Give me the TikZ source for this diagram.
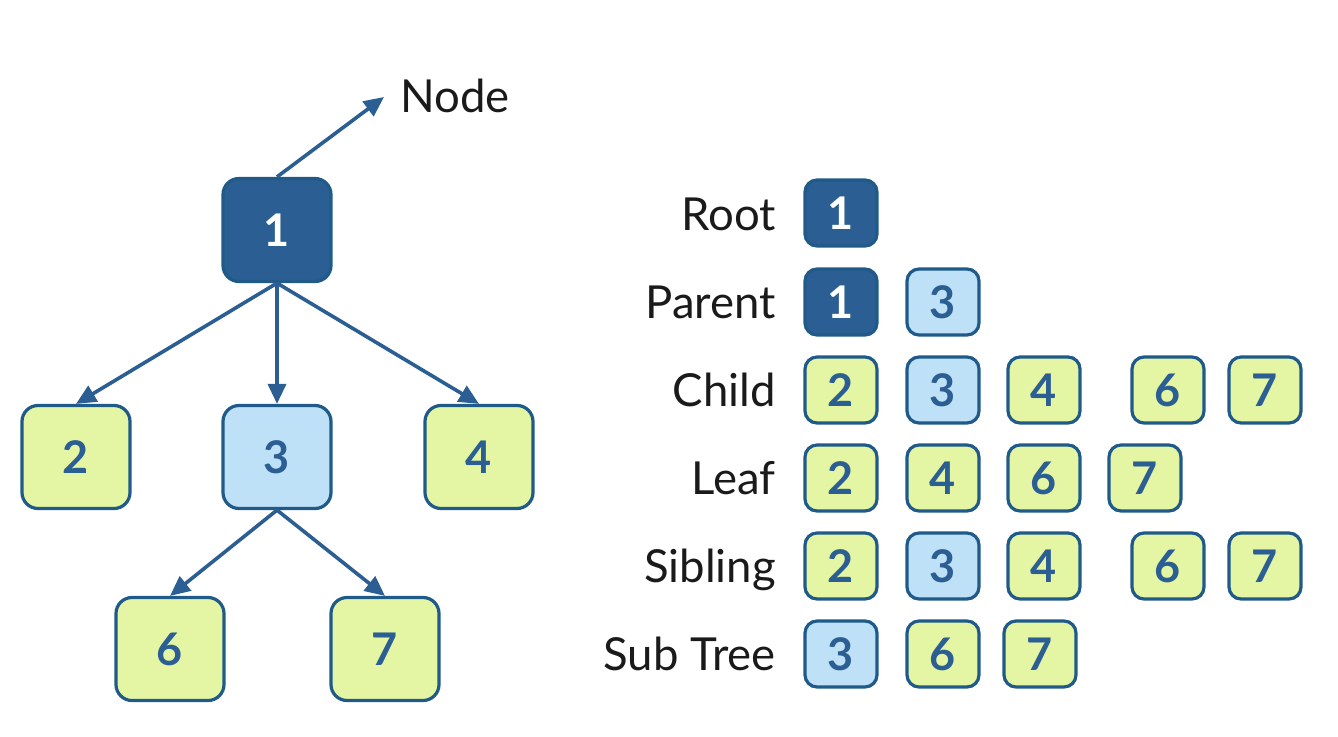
\documentclass[tikz,border=0pt]{standalone}
\usepackage{fontspec}
\setmainfont{Lato}
\usetikzlibrary{arrows.meta}
\definecolor{dblue}{HTML}{2B5E92}
\definecolor{edge}{HTML}{1F5A88}
\definecolor{lblue}{HTML}{BEE1F8}
\definecolor{lgreen}{HTML}{E4F5A4}
\definecolor{txt}{HTML}{1A1A1A}
\tikzset{
  bx/.style={rounded corners=13pt, line width=3.2pt, draw=edge, inner sep=0pt, font=\bfseries\fontsize{45}{52}\selectfont},
  big/.style={bx, minimum width=108pt, minimum height=103pt, rounded corners=16pt},
  sm/.style={bx, minimum width=72pt, minimum height=66pt, rounded corners=12pt},
  rootc/.style={fill=dblue, text=white},
  parc/.style={fill=lblue, text=dblue},
  leafc/.style={fill=lgreen, text=dblue},
  arr/.style={draw=dblue, line width=3.6pt, -{Triangle[length=20pt,width=18pt]}},
  lab/.style={anchor=base east, text=txt, font=\fontsize{45.5}{52}\selectfont, inner sep=0pt}
}
\begin{document}
\begin{tikzpicture}[x=1pt,y=-1pt]
\useasboundingbox (0,0) rectangle (1338,736);
% tree
\node[big,rootc] (n1) at (277,230) {1};
\node[big,leafc] (n2) at (76,457) {2};
\node[big,parc] (n3) at (277,457) {3};
\node[big,leafc] (n4) at (479,457) {4};
\node[big,leafc] (n6) at (170,649) {6};
\node[big,leafc] (n7) at (385,649) {7};
\coordinate (tip) at (384,97);
\node[anchor=base west, inner sep=0pt, text=txt, font=\fontsize{45.5}{52}\selectfont] (nodelab) at (400,112) {Node};
\draw[arr] (n1.north) -- (tip);
\draw[arr] (n1.south) -- (n2.north);
\draw[arr] (n1.south) -- (n3.north);
\draw[arr] (n1.south) -- (n4.north);
\draw[arr] (n3.south) -- (n6.north);
\draw[arr] (n3.south) -- (n7.north);
% table
\node[lab] (lroot) at (776,230) {Root};
\node[lab] (lpar) at (776,318) {Parent};
\node[lab] (lchild) at (776,406) {Child};
\node[lab] (lleaf) at (776,494) {Leaf};
\node[lab] (lsib) at (776,582) {Sibling};
\node[lab] (lsub) at (776,670) {Sub Tree};
% Root
\node[sm,rootc] (r1) at (841,213) {1};
% Parent
\node[sm,rootc] (p1) at (841,302) {1};
\node[sm,parc] (p3) at (943,302) {3};
% Child
\node[sm,leafc] (c2) at (841,390) {2};
\node[sm,parc] (c3) at (943,390) {3};
\node[sm,leafc] (c4) at (1044,390) {4};
\node[sm,leafc] (c6) at (1168,390) {6};
\node[sm,leafc] (c7) at (1265,390) {7};
% Leaf
\node[sm,leafc] (l2) at (841,478) {2};
\node[sm,leafc] (l4) at (943,478) {4};
\node[sm,leafc] (l6) at (1044,478) {6};
\node[sm,leafc] (l7) at (1145,478) {7};
% Sibling
\node[sm,leafc] (s2) at (841,566) {2};
\node[sm,parc] (s3) at (943,566) {3};
\node[sm,leafc] (s4) at (1044,566) {4};
\node[sm,leafc] (s6) at (1168,566) {6};
\node[sm,leafc] (s7) at (1265,566) {7};
% Sub Tree
\node[sm,parc] (t3) at (841,654) {3};
\node[sm,leafc] (t6) at (943,654) {6};
\node[sm,leafc] (t7) at (1040,654) {7};
\end{tikzpicture}
\end{document}
